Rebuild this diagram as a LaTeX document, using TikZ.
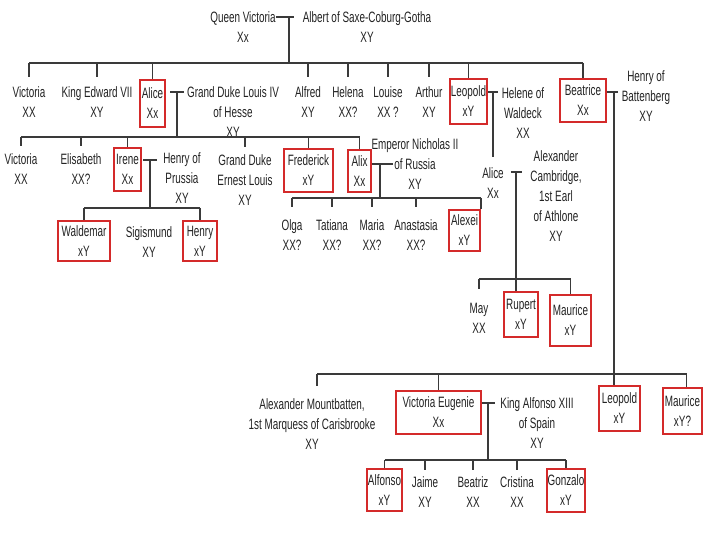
\documentclass[tikz,border=0pt]{standalone}
\usepackage{fontspec}
\setmainfont{Liberation Sans}[FakeStretch=0.66]
\definecolor{txt}{HTML}{232323}
\definecolor{lg}{HTML}{3A3A3A}
\definecolor{boxred}{HTML}{D42A2A}
\newcommand{\ls}{\rule[-4.6pt]{0pt}{20pt}}
\newcommand{\twol}[2]{\ls #1\\\ls #2}
\newcommand{\threel}[3]{\ls #1\\\ls #2\\\ls #3}
\tikzset{
  p/.style={font=\fontsize{15}{20}\selectfont, align=center, inner sep=0pt, text=txt},
  bx/.style={p, draw=boxred, line width=2.2pt},
  ln/.style={draw=lg, line width=1.3pt},
  drop/.style={ln, shorten >=#1},
}
\begin{document}
\begin{tikzpicture}[x=1pt,y=-1pt]
\useasboundingbox[fill=white] (0,0) rectangle (720,540);

% ---------- generation 1
\node[p] (qv) at (243,27.5) {\twol{Queen Victoria}{Xx}};
\node[p] (alb) at (367,27.5) {\twol{Albert of Saxe-Coburg-Gotha}{XY}};

% ---------- generation 2
\node[p] (vic2) at (29,102) {\twol{Victoria}{XX}};
\node[p] (edw) at (97,102) {\twol{King Edward VII}{XY}};
\node[bx, minimum width=25pt, minimum height=47pt] (alice) at (152.5,103.5) {\twol{Alice}{Xx}};
\node[p] (louis) at (233,112) {\threel{Grand Duke Louis IV}{of Hesse}{XY}};
\node[p] (alfred) at (308,102) {\twol{Alfred}{XY}};
\node[p] (helena) at (348,102) {\twol{Helena}{XX?}};
\node[p] (louise) at (388,102) {\twol{Louise}{XX ?}};
\node[p] (arthur) at (429,102) {\twol{Arthur}{XY}};
\node[bx, minimum width=37pt, minimum height=45pt] (leo) at (468.5,101.5) {\twol{Leopold}{xY}};
\node[p] (helene) at (523,113) {\threel{Helene of}{Waldeck}{XX}};
\node[bx, minimum width=46pt, minimum height=43pt] (bea) at (583,100.5) {\twol{Beatrice}{Xx}};
\node[p] (henryb) at (646,96.5) {\threel{Henry of}{Battenberg}{XY}};

% ---------- generation 3
\node[p] (vic3) at (21,169) {\twol{Victoria}{XX}};
\node[p] (elis) at (81,169) {\twol{Elisabeth}{XX?}};
\node[bx, minimum width=27pt, minimum height=43pt] (irene) at (127.5,169.5) {\twol{Irene}{Xx}};
\node[p] (henryp) at (182,178) {\threel{Henry of}{Prussia}{XY}};
\node[p] (ernest) at (245,180) {\threel{Grand Duke}{Ernest Louis}{XY}};
\node[bx, minimum width=49pt, minimum height=43pt] (fred) at (308.5,170.5) {\twol{Frederick}{xY}};
\node[bx, minimum width=23pt, minimum height=42pt] (alix) at (359.5,171) {\twol{Alix}{Xx}};
\node[p] (nich) at (415,164) {\threel{Emperor Nicholas II}{of Russia}{XY}};
\node[p] (alice2) at (493,183) {\twol{Alice}{Xx}};
\node[p] (athlone) at (556,196) {\ls Alexander\\\ls Cambridge,\\\ls 1st Earl\\\ls of Athlone\\\ls XY};

% ---------- generation 4
\node[bx, minimum width=52pt, minimum height=40pt] (wald) at (84,241) {\twol{Waldemar}{xY}};
\node[p] (sigi) at (149,242) {\twol{Sigismund}{XY}};
\node[bx, minimum width=34pt, minimum height=40pt] (henry) at (200,241) {\twol{Henry}{xY}};
\node[p] (olga) at (292,235) {\twol{Olga}{XX?}};
\node[p] (tat) at (332,235) {\twol{Tatiana}{XX?}};
\node[p] (maria) at (372,235) {\twol{Maria}{XX?}};
\node[p] (anast) at (416,235) {\twol{Anastasia}{XX?}};
\node[bx, minimum width=31pt, minimum height=41pt] (alexei) at (464.5,230.5) {\twol{Alexei}{xY}};
\node[p] (may) at (479,318) {\twol{May}{XX}};
\node[bx, minimum width=34pt, minimum height=45pt] (rupert) at (521,314.5) {\twol{Rupert}{xY}};
\node[bx, minimum width=41pt, minimum height=51pt] (maurice) at (570.5,320.5) {\twol{Maurice}{xY}};

\node[p] (mount) at (312,424.5) {\threel{Alexander Mountbatten,}{1st Marquess of Carisbrooke}{XY}};
\node[bx, minimum width=85pt, minimum height=43pt] (vicEug) at (438.5,412.5) {\twol{Victoria Eugenie}{Xx}};
\node[p] (alfonso) at (537,423) {\threel{King Alfonso XIII}{of Spain}{XY}};
\node[bx, minimum width=41pt, minimum height=45pt] (leo2) at (619.5,408.5) {\twol{Leopold}{xY}};
\node[bx, minimum width=39pt, minimum height=46pt] (maur2) at (682.5,411) {\twol{Maurice}{xY?}};

% ---------- generation 5
\node[bx, minimum width=35pt, minimum height=42pt] (alf) at (384.5,490) {\twol{Alfonso}{xY}};
\node[p] (jaime) at (425,492.5) {\twol{Jaime}{XY}};
\node[p] (beatriz) at (473,492.5) {\twol{Beatriz}{XX}};
\node[p] (cristina) at (517,492.5) {\twol{Cristina}{XX}};
\node[bx, minimum width=38pt, minimum height=43pt] (gonz) at (566,490.5) {\twol{Gonzalo}{xY}};

% ---------- coordinates of marriages and sibling lines
\coordinate (m1) at (289,17);  \coordinate (m1r) at (294,17);
\coordinate (m2) at (177,92);  \coordinate (m2r) at (184,92);
\coordinate (m3) at (150,160); \coordinate (m3r) at (157,160);
\coordinate (m4) at (380,164); \coordinate (m4r) at (393,164);
\coordinate (m5) at (493,92);  \coordinate (m5r) at (498,92);
\coordinate (m6) at (516,172); \coordinate (m6r) at (522,172);
\coordinate (m7) at (614,92);  \coordinate (m7r) at (618,92);
\coordinate (m8) at (488,403); \coordinate (m8r) at (495,403);
\coordinate (r2) at (0,63);
\coordinate (r3) at (0,137);
\coordinate (r4a) at (0,208);
\coordinate (r4b) at (0,198);
\coordinate (r5) at (0,279);
\coordinate (r6) at (0,374);
\coordinate (r7) at (0,460);

% Victoria + Albert
\draw[ln] (qv.east |- m1) -- (m1r);
\draw[ln] (m1) -- (m1 |- r2);
\draw[ln] (vic2.north |- r2) -- (bea.north |- r2);
\foreach \n in {vic2,edw,alfred,helena,louise,arthur}
  \draw[drop=5pt] (\n.north |- r2) -- (\n.north);
\foreach \n in {alice,leo,bea}
  \draw[ln] (\n.north |- r2) -- (\n.north);

% Alice + Louis
\draw[ln, shorten <=4pt] (alice.east |- m2) -- (m2r);
\draw[ln] (m2) -- (m2 |- r3);
\draw[ln] (vic3.north |- r3) -- (alix.north |- r3);
\foreach \n in {vic3,elis,ernest}
  \draw[drop=3pt] (\n.north |- r3) -- (\n.north);
\foreach \n in {irene,fred,alix}
  \draw[ln] (\n.north |- r3) -- (\n.north);

% Irene + Henry of Prussia
\draw[ln, shorten <=1pt] (irene.east |- m3) -- (m3r);
\draw[ln] (m3) -- (m3 |- r4a);
\draw[ln] (wald.north |- r4a) -- (henry.north |- r4a);
\foreach \n in {wald,henry}
  \draw[ln] (\n.north |- r4a) -- (\n.north);

% Alix + Nicholas
\draw[ln] (alix.east |- m4) -- (m4r);
\draw[ln] (m4) -- (m4 |- r4b);
\draw[ln] (olga.north |- r4b) -- (alexei.north east |- r4b);
\foreach \n in {olga,tat,maria,anast}
  \draw[drop=8pt] (\n.north |- r4b) -- (\n.north);
\draw[ln] (alexei.north east |- r4b) -- (alexei.north east);

% Leopold + Helene
\draw[ln] (leo.east |- m5) -- (m5r);
\draw[drop=6pt] (m5) -- (alice2.north);

% Alice + Alexander Cambridge
\draw[ln, shorten <=7pt] (alice2.east |- m6) -- (m6r);
\draw[ln] (m6) -- (m6 |- rupert.north);
\draw[ln] (may.north |- r5) -- (maurice.north |- r5);
\draw[drop=9pt] (may.north |- r5) -- (may.north);
\draw[ln] (maurice.north |- r5) -- (maurice.north);

% Beatrice + Henry of Battenberg
\draw[ln] (bea.east |- m7) -- (m7r);
\draw[ln] (m7) -- (m7 |- leo2.north);
\draw[ln] ([xshift=5pt]mount.north |- r6) -- ([xshift=4pt]maur2.north |- r6);
\draw[drop=8pt] ([xshift=5pt]mount.north |- r6) -- ([xshift=5pt]mount.north);
\draw[ln] (vicEug.north |- r6) -- (vicEug.north);
\draw[ln] ([xshift=4pt]maur2.north |- r6) -- ([xshift=4pt]maur2.north);

% Victoria Eugenie + Alfonso XIII
\draw[ln] (vicEug.east |- m8) -- (m8r);
\draw[ln] (m8) -- (m8 |- r7);
\draw[ln] (alf.north |- r7) -- (gonz.north |- r7);
\foreach \n in {alf,gonz}
  \draw[ln] (\n.north |- r7) -- (\n.north);
\foreach \n in {jaime,beatriz,cristina}
  \draw[drop=2pt] (\n.north |- r7) -- (\n.north);
\end{tikzpicture}
\end{document}
